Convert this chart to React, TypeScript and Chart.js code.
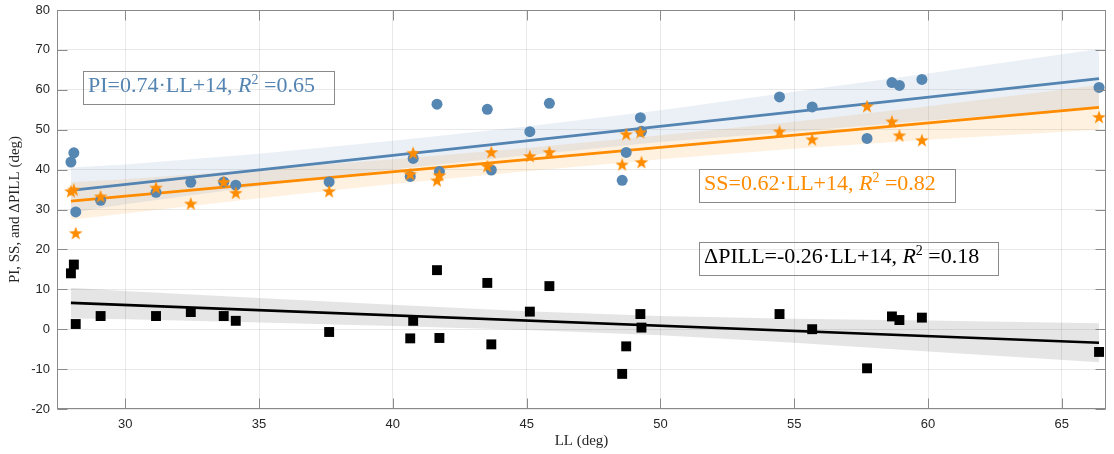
import React, { useEffect, useRef } from "react";
import { Chart, registerables } from "chart.js";
Chart.register(...registerables);

// ---- data ----
const LL = [27.97, 28.08, 28.15, 29.08, 31.15, 32.45, 33.68, 34.13, 37.62, 40.65, 40.76, 41.65, 41.74, 43.53, 43.68, 45.12, 45.85, 48.57, 48.72, 49.25, 49.29, 54.45, 55.67, 57.72, 58.65, 58.93, 59.77, 66.39];
const PI = [41.9, 44.2, 29.4, 32.3, 34.3, 36.8, 36.9, 36.1, 36.9, 38.3, 42.8, 56.4, 39.5, 55.1, 39.9, 49.5, 56.6, 37.3, 44.3, 53.0, 49.6, 58.2, 55.7, 47.8, 61.8, 61.1, 62.6, 60.6];
const SS = [34.6, 35.0, 24.1, 33.3, 35.5, 31.5, 36.9, 34.2, 34.6, 38.9, 44.2, 37.3, 38.6, 40.9, 44.4, 43.4, 44.4, 41.3, 48.9, 49.4, 41.9, 49.6, 47.6, 55.9, 52.1, 48.6, 47.4, 53.2];
const DPILL = [14.0, 16.2, 1.3, 3.3, 3.3, 4.3, 3.3, 2.1, -0.7, -2.3, 2.1, 14.8, -2.2, 11.6, -3.8, 4.4, 10.8, -11.2, -4.3, 3.8, 0.4, 3.8, 0.0, -9.8, 3.2, 2.3, 2.9, -5.7];

const FIT_X = [27.97, 66.39];
const PI_FIT = [34.8, 62.8];
const SS_FIT = [32.1, 55.6];
const DPILL_FIT = [6.6, -3.4];

const BAND_X = [27.97, 30, 35, 40, 45, 50, 55, 60, 66.39];
const PI_UP = [40.5, 41.3, 44.0, 47.2, 50.8, 54.9, 59.5, 64.1, 70.2];
const PI_LO = [29.1, 31.3, 35.8, 40.0, 43.6, 46.9, 49.5, 52.3, 55.4];
const SS_UP = [36.8, 37.6, 40.0, 42.6, 45.4, 48.6, 52.0, 55.9, 61.2];
const SS_LO = [27.4, 29.0, 32.8, 36.4, 39.6, 42.6, 45.2, 47.5, 50.0];
const DP_UP = [10.4, 9.6, 7.8, 6.1, 4.5, 3.3, 2.6, 2.2, 1.5];
const DP_LO = [2.7, 2.5, 1.7, 0.8, -0.2, -1.5, -3.4, -5.6, -8.3];

const X_TICKS = [30, 35, 40, 45, 50, 55, 60, 65];
const Y_TICKS = [-20, -10, 0, 10, 20, 30, 40, 50, 60, 70, 80];
const X_MIN = 27.45;
const X_MAX = 66.65;
const Y_MIN = -20;
const Y_MAX = 80;

const X_TITLE = "LL (deg)";
const Y_TITLE = "PI, SS, and \u0394PILL (deg)";

const BLUE = "rgb(84,132,178)";
const ORANGE = "rgb(255,140,0)";

type Part = { t: string; s?: "i" | "sup" };
const LABELS: { parts: Part[]; color: string; x: number; y: number }[] = [
  { parts: [{ t: "PI=0.74\u00b7LL+14, " }, { t: "R", s: "i" }, { t: "2", s: "sup" }, { t: " =0.65" }], color: BLUE, x: 28.42, y: 64.7 },
  { parts: [{ t: "SS=0.62\u00b7LL+14, " }, { t: "R", s: "i" }, { t: "2", s: "sup" }, { t: " =0.82" }], color: ORANGE, x: 51.44, y: 40.1 },
  { parts: [{ t: "\u0394PILL=-0.26\u00b7LL+14, " }, { t: "R", s: "i" }, { t: "2", s: "sup" }, { t: " =0.18" }], color: "#000", x: 51.44, y: 21.8 },
];

const pts = (xs: number[], ys: number[]) => xs.map((x, i) => ({ x, y: ys[i] }));

function makeStar(color: string): HTMLCanvasElement {
  const size = 16;
  const c = document.createElement("canvas");
  c.width = size;
  c.height = size;
  const ctx = c.getContext("2d")!;
  const cx = size / 2, cy = size / 2 + 0.6, R = 7.2, r = R * 0.4;
  ctx.beginPath();
  for (let k = 0; k < 10; k++) {
    const ang = -Math.PI / 2 + (k * Math.PI) / 5;
    const rad = k % 2 === 0 ? R : r;
    const px = cx + rad * Math.cos(ang), py = cy + rad * Math.sin(ang);
    if (k === 0) ctx.moveTo(px, py); else ctx.lineTo(px, py);
  }
  ctx.closePath();
  ctx.fillStyle = color;
  ctx.fill();
  return c;
}

const SERIF = '"Liberation Serif", "DejaVu Serif", serif';
const SANS = '"Liberation Sans", Arial, sans-serif';

function fontFor(p: Part) {
  if (p.s === "i") return `italic 22px ${SERIF}`;
  if (p.s === "sup") return `14px ${SERIF}`;
  return `22px ${SERIF}`;
}

const framePlugin = {
  id: "frameAndLabels",
  afterDraw(chart: any) {
    const { ctx, chartArea: a, scales } = chart;
    ctx.save();
    ctx.strokeStyle = "#8a8a8a";
    ctx.lineWidth = 1;
    const L = Math.round(a.left) + 0.5, R = Math.round(a.right) - 0.5;
    const T = Math.round(a.top) + 0.5, B = Math.round(a.bottom) - 0.5;
    ctx.strokeRect(L, T, R - L, B - T);
    ctx.beginPath();
    for (const v of X_TICKS) {
      const px = Math.round(scales.x.getPixelForValue(v)) + 0.5;
      ctx.moveTo(px, B); ctx.lineTo(px, B - 10);
      ctx.moveTo(px, T); ctx.lineTo(px, T + 10);
    }
    for (const v of Y_TICKS) {
      const py = Math.round(scales.y.getPixelForValue(v)) + 0.5;
      ctx.moveTo(L, py); ctx.lineTo(L + 10, py);
      ctx.moveTo(R, py); ctx.lineTo(R - 10, py);
    }
    ctx.stroke();

    for (const lab of LABELS) {
      const left = Math.round(scales.x.getPixelForValue(lab.x));
      const top = Math.round(scales.y.getPixelForValue(lab.y));
      let w = 0;
      for (const p of lab.parts) { ctx.font = fontFor(p); w += ctx.measureText(p.t).width; }
      ctx.strokeStyle = "#8a8a8a";
      ctx.strokeRect(left + 0.5, top + 0.5, Math.round(w + 24), 33);
      let cx = left + 5;
      const by = top + 21;
      ctx.fillStyle = lab.color;
      ctx.textBaseline = "alphabetic";
      ctx.textAlign = "left";
      for (const p of lab.parts) {
        ctx.font = fontFor(p);
        ctx.fillText(p.t, cx, p.s === "sup" ? by - 8 : by);
        cx += ctx.measureText(p.t).width;
      }
    }
    ctx.restore();
  },
};

export default function App() {
  const ref = useRef<HTMLCanvasElement>(null);
  useEffect(() => {
    if (!ref.current) return;
    const star = makeStar(ORANGE);
    const band = (data: any, color: string | false) => ({
      type: "line",
      data,
      showLine: true,
      borderWidth: 0,
      pointRadius: 0,
      fill: color ? "+1" : false,
      backgroundColor: color || "transparent",
      borderColor: "transparent",
      order: 10,
    });
    const fit = (ys: number[], color: string) => ({
      type: "line",
      data: pts(FIT_X, ys),
      showLine: true,
      borderWidth: 2.6,
      borderColor: color,
      pointRadius: 0,
      fill: false,
      order: 5,
    });
    const chart = new Chart(ref.current, {
      type: "scatter",
      data: {
        datasets: [
          band(pts(BAND_X, PI_UP), "rgba(84,132,178,0.12)"),
          band(pts(BAND_X, PI_LO), false),
          band(pts(BAND_X, SS_UP), "rgba(255,140,0,0.12)"),
          band(pts(BAND_X, SS_LO), false),
          band(pts(BAND_X, DP_UP), "rgba(0,0,0,0.1)"),
          band(pts(BAND_X, DP_LO), false),
          fit(PI_FIT, BLUE),
          fit(SS_FIT, ORANGE),
          fit(DPILL_FIT, "#000"),
          {
            data: pts(LL, PI),
            pointStyle: "circle",
            pointRadius: 5.5,
            pointBackgroundColor: "rgb(86,134,178)",
            pointBorderWidth: 0,
            order: 3,
          },
          {
            data: pts(LL, DPILL),
            pointStyle: "rect",
            pointRadius: 7,
            pointBackgroundColor: "#000",
            pointBorderWidth: 0,
            order: 2,
          },
          {
            data: pts(LL, SS),
            pointStyle: star,
            pointRadius: 7,
            order: 1,
          },
        ] as any,
      },
      options: {
        responsive: false,
        animation: false,
        layout: { padding: { left: 0, right: 1, top: 10, bottom: 0 } },
        plugins: { legend: { display: false }, tooltip: { enabled: false } },
        scales: {
          x: {
            type: "linear",
            min: X_MIN,
            max: X_MAX,
            afterBuildTicks: (s: any) => { s.ticks = X_TICKS.map((v) => ({ value: v })); },
            afterFit: (s: any) => { s.height = 45; s.paddingLeft = 0; s.paddingRight = 0; },
            grid: { color: "rgba(38,38,38,0.1)", drawTicks: false, lineWidth: 1 },
            border: { display: false },
            ticks: { font: { family: SANS, size: 13 }, color: "#262626", padding: 8, maxRotation: 0, autoSkip: false },
            title: { display: true, text: X_TITLE, font: { family: SERIF, size: 15 }, color: "#262626", padding: { top: 0, bottom: 4 } },
          },
          y: {
            type: "linear",
            min: Y_MIN,
            max: Y_MAX,
            afterBuildTicks: (s: any) => { s.ticks = Y_TICKS.map((v) => ({ value: v })); },
            afterFit: (s: any) => { s.width = 57; s.paddingTop = 0; s.paddingBottom = 0; },
            grid: { color: "rgba(38,38,38,0.1)", drawTicks: false, lineWidth: 1 },
            border: { display: false },
            ticks: { font: { family: SANS, size: 13 }, color: "#262626", padding: 7, autoSkip: false },
            title: { display: true, text: Y_TITLE, font: { family: SERIF, size: 15 }, color: "#262626", padding: { top: 6, bottom: 0 } },
          },
        },
      } as any,
      plugins: [framePlugin],
    });
    return () => chart.destroy();
  }, []);
  return (
    <div style={{ position: "absolute", left: 0, top: 0, width: 1114, height: 454, background: "#fff" }}>
      <canvas ref={ref} width={1114} height={454} style={{ display: "block" }} />
    </div>
  );
}
